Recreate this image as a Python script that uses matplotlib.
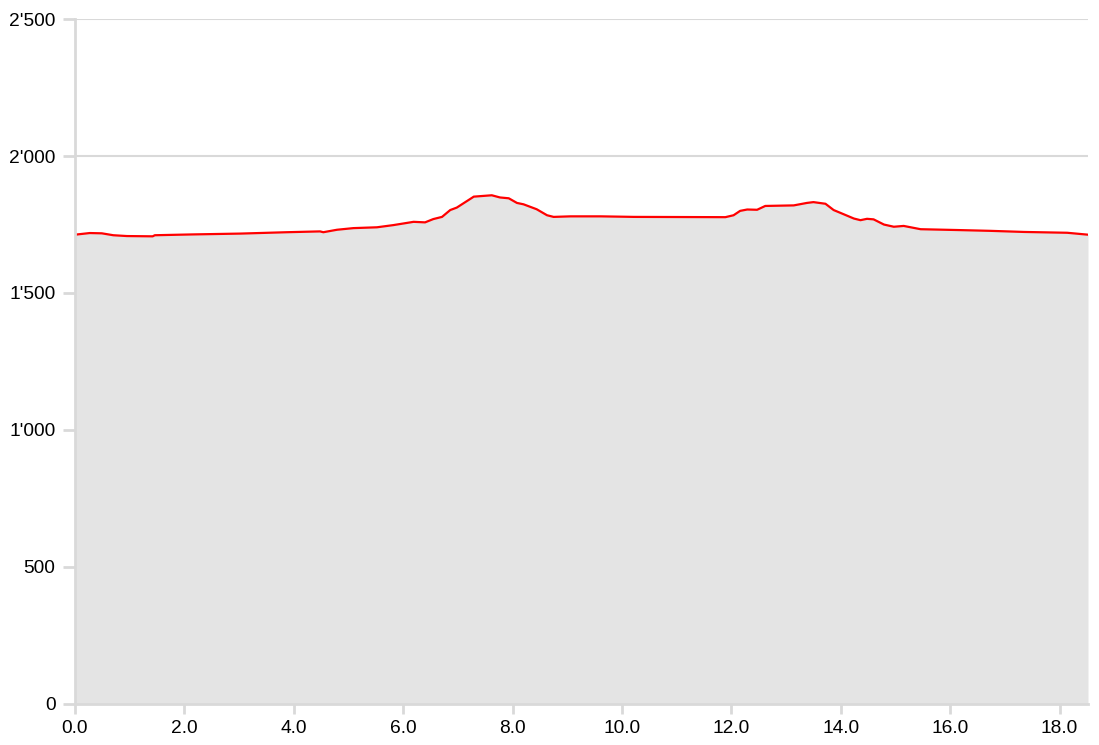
import numpy as np
import matplotlib
matplotlib.use("Agg")
import matplotlib.pyplot as plt
from matplotlib.ticker import FuncFormatter, MultipleLocator

# --- profile data: distance (km) vs elevation (m) ---
dist_km = [0.0, 0.27, 0.49, 0.70, 0.95, 1.42, 1.46, 2.16, 3.02, 3.87, 4.48, 4.54,
           4.79, 5.09, 5.52, 5.82, 6.13, 6.19, 6.40, 6.55, 6.71, 6.86, 6.98, 7.26,
           7.29, 7.62, 7.77, 7.93, 8.08, 8.20, 8.44, 8.63, 8.75, 9.06, 9.61, 10.22,
           11.89, 12.04, 12.16, 12.29, 12.47, 12.62, 13.14, 13.38, 13.50, 13.72,
           13.87, 13.99, 14.24, 14.36, 14.48, 14.60, 14.79, 14.97, 15.15, 15.46,
           16.13, 16.74, 17.35, 18.14, 18.52]
elev_m = [1713, 1719, 1718, 1711, 1708, 1707, 1711, 1714, 1717, 1722, 1725, 1722,
          1731, 1737, 1740, 1748, 1758, 1760, 1758, 1770, 1778, 1803, 1812, 1848,
          1852, 1857, 1849, 1846, 1829, 1824, 1806, 1784, 1778, 1780, 1780, 1778,
          1777, 1784, 1800, 1805, 1804, 1818, 1820, 1829, 1832, 1826,
          1803, 1793, 1772, 1766, 1771, 1769, 1750, 1742, 1745, 1733,
          1730, 1727, 1723, 1720, 1713]

GRID = "#d9d9d9"

plt.rcParams["font.family"] = ["Liberation Sans", "DejaVu Sans"]

fig = plt.figure(figsize=(10.99, 7.45), dpi=100)
ax = fig.add_axes([75 / 1099, 41.5 / 745, 1013 / 1099, 684.2 / 745])

x = np.array(dist_km)
y = np.array(elev_m)
ax.fill_between(x, 0, y, color="#e4e4e4", linewidth=0, zorder=1)
ax.plot(x, y, color="#ff0000", linewidth=1.6, zorder=3)

ax.set_xlim(0, dist_km[-1])
ax.set_ylim(0, 2500)
ax.xaxis.set_major_locator(MultipleLocator(2.0))
ax.yaxis.set_major_locator(MultipleLocator(500))
ax.xaxis.set_major_formatter(FuncFormatter(lambda v, p: f"{v:.1f}"))
ax.yaxis.set_major_formatter(FuncFormatter(lambda v, p: f"{int(v):,}".replace(",", "'")))

ax.grid(axis="y", color=GRID, linewidth=1.5, zorder=0)
ax.set_axisbelow(True)
for s in ("top", "right"):
    ax.spines[s].set_visible(False)
for s in ("left", "bottom"):
    ax.spines[s].set_color(GRID)
    ax.spines[s].set_linewidth(2)
    ax.spines[s].set_zorder(4)

ax.tick_params(axis="both", colors=GRID, width=2, labelcolor="black", labelsize=13.8)
ax.tick_params(axis="y", length=9, pad=5)
ax.tick_params(axis="x", length=7, pad=5)

fig.savefig("out.png", dpi=100)
